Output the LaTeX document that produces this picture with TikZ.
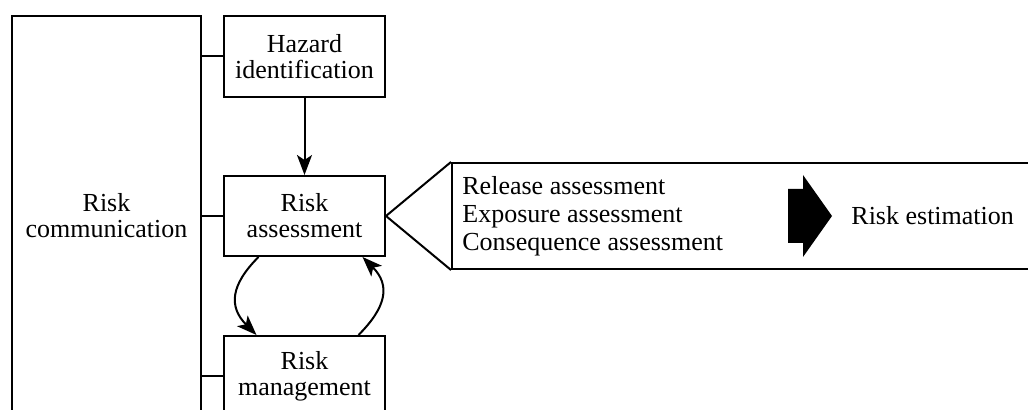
\documentclass[tikz,border=0pt]{standalone}
\usepackage{fontspec}
\setmainfont{Liberation Serif}
\usetikzlibrary{arrows.meta,positioning}

\begin{document}
\begin{tikzpicture}[
x=0.5pt, y=-0.5pt,
     box/.style = {rectangle, draw, line width=1pt,% boxes of the process
                   minimum width=80.5pt, minimum height=40.5pt,
                   inner sep=0pt, align=center,
                   font=\fontsize{13}{13}\selectfont},
    link/.style = {line width=1pt},
     arr/.style = {line width=1pt, -{Stealth[length=10pt,width=7.5pt,inset=2.5pt]}},
    txt/.style = {inner sep=0pt, anchor=west, align=left,
                  font=\fontsize{13}{14}\selectfont},
                        ]
\useasboundingbox (0,0) rectangle (1028,410);
\clip (0,0) rectangle (1028,410);
% left column
\node[box, minimum width=94.5pt, minimum height=200pt] (comm) at (106.5,216) {Risk\\communication};
% process boxes
\node[box] (haz) at (304.5,56.5) {Hazard\\identification};
\node[box, minimum height=40pt] (ra) at (304.5,216) {Risk\\assessment};
\node[box, minimum height=40pt] (rm) at (304.5,376) {Risk\\management};
\foreach \b in {haz,ra,rm}
    \draw[link] (comm.east |- \b.west) -- (\b.west);
\draw[arr] (haz) -- (ra);
\draw[arr] ([xshift=-23pt]ra.south) to[out=225,in=135,looseness=1.3] ([xshift=-24pt]rm.north);
\draw[arr] ([xshift=27pt]rm.north) to[out=45,in=-45,looseness=1.3] ([xshift=29pt]ra.south);
% callout
\node[box, minimum width=294pt, minimum height=53pt] (call) at (746,216) {};
\draw[line width=1pt] (call.north west) -- (ra.east) -- (call.south west);
\node[txt] (steps) at (462,216) {Release assessment\\Exposure assessment\\Consequence assessment};
\fill (788,189) -- (803,189) -- (803,175) -- (832,216) -- (803,257) -- (803,243) -- (788,243) -- cycle;
\node[txt] (est) at (851,216) {Risk estimation};
\end{tikzpicture}
\end{document}
